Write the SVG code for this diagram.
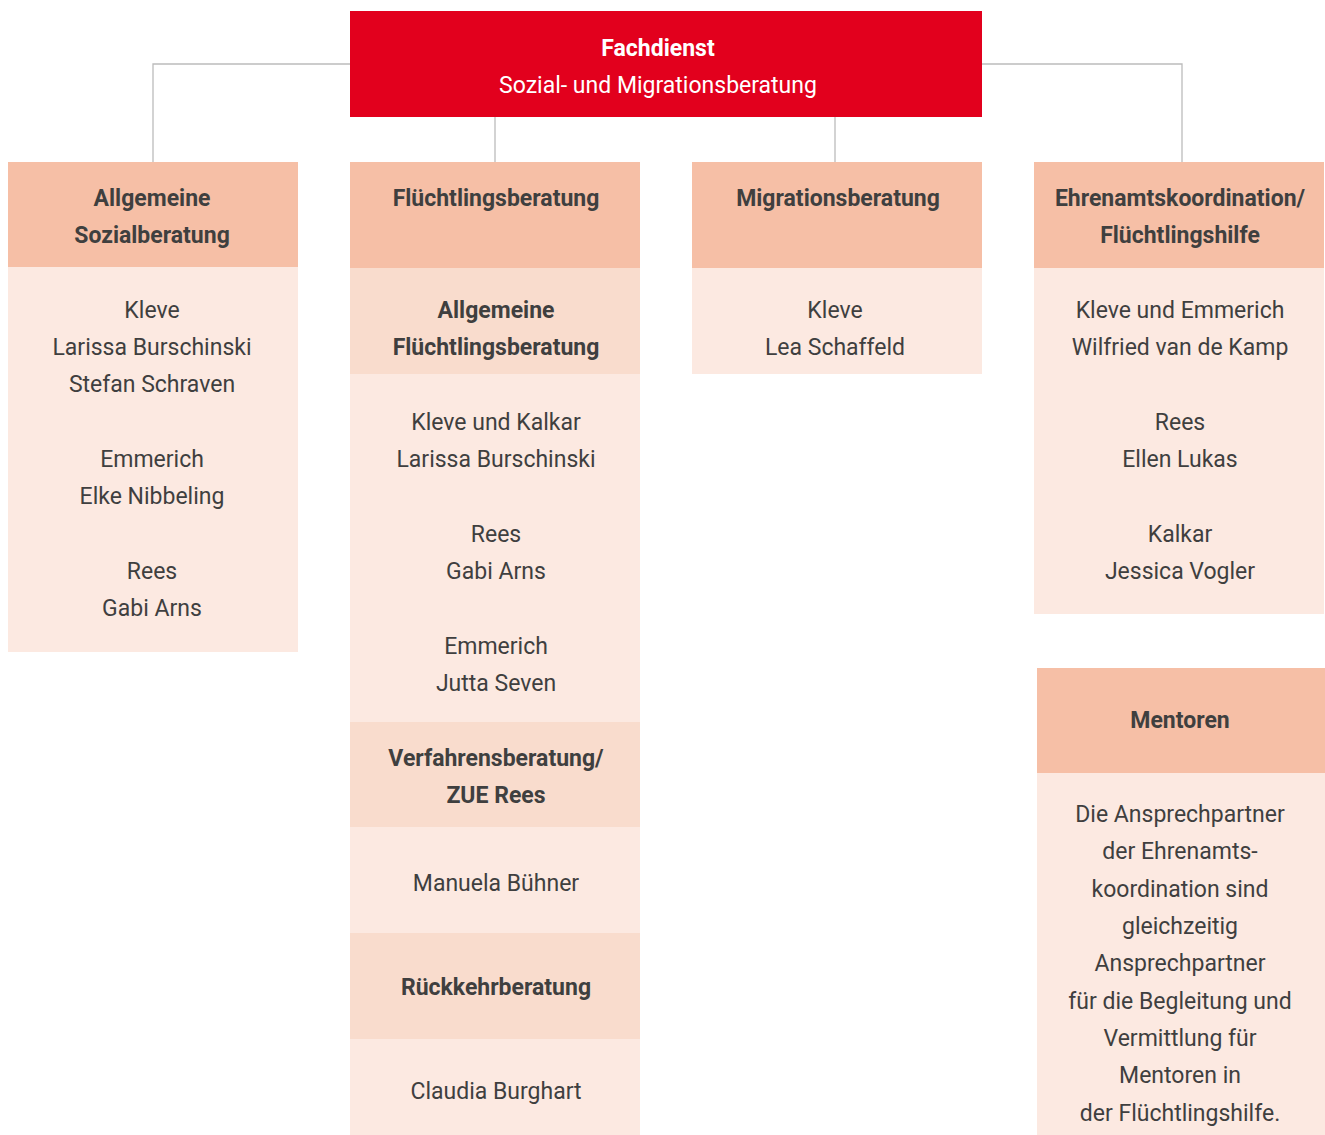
<svg xmlns="http://www.w3.org/2000/svg" width="1325" height="1135" viewBox="0 0 1325 1135">
<style>
text{font-family:"Liberation Sans Narrow","Roboto","Liberation Sans",sans-serif;font-size:23px;text-anchor:middle;fill:#3f3f3f}
.b{font-weight:bold}
.w{fill:#ffffff}
.h{fill:#f6bfa6}
.s{fill:#f9dccd}
.p{fill:#fce9e1}
.c{stroke:#bcbcbc;stroke-width:1.3;fill:none}
</style>
<rect width="1325" height="1135" fill="#ffffff"/>
<g id="connectors">
<polyline class="c" points="153,162 153,64 350,64"/>
<polyline class="c" points="982,64 1182,64 1182,162"/>
<line class="c" x1="495" y1="117" x2="495" y2="162"/>
<line class="c" x1="835" y1="117" x2="835" y2="162"/>
</g>
<g id="root">
<rect x="350" y="11" width="632" height="106" fill="#e2001d"/>
<text class="b w" x="658" y="56">Fachdienst</text>
<text class="w" x="658" y="93">Sozial- und Migrationsberatung</text>
</g>
<g id="sozialberatung">
<rect class="h" x="8" y="162" width="290" height="105"/>
<rect class="p" x="8" y="267" width="290" height="385"/>
<text class="b" x="152" y="206">Allgemeine</text>
<text class="b" x="152" y="243">Sozialberatung</text>
<text x="152" y="318">Kleve</text>
<text x="152" y="355">Larissa Burschinski</text>
<text x="152" y="392">Stefan Schraven</text>
<text x="152" y="467">Emmerich</text>
<text x="152" y="504">Elke Nibbeling</text>
<text x="152" y="579">Rees</text>
<text x="152" y="616">Gabi Arns</text>
</g>
<g id="fluechtlingsberatung">
<rect class="h" x="350" y="162" width="290" height="106"/>
<text class="b" x="496" y="206">Flüchtlingsberatung</text>
</g>
<g id="allg-fluechtlingsberatung">
<rect class="s" x="350" y="268" width="290" height="106"/>
<rect class="p" x="350" y="374" width="290" height="348"/>
<text class="b" x="496" y="318">Allgemeine</text>
<text class="b" x="496" y="355">Flüchtlingsberatung</text>
<text x="496" y="430">Kleve und Kalkar</text>
<text x="496" y="467">Larissa Burschinski</text>
<text x="496" y="542">Rees</text>
<text x="496" y="579">Gabi Arns</text>
<text x="496" y="654">Emmerich</text>
<text x="496" y="691">Jutta Seven</text>
</g>
<g id="verfahrensberatung">
<rect class="s" x="350" y="722" width="290" height="105"/>
<rect class="p" x="350" y="827" width="290" height="106"/>
<text class="b" x="496" y="766">Verfahrensberatung/</text>
<text class="b" x="496" y="803">ZUE Rees</text>
<text x="496" y="891">Manuela Bühner</text>
</g>
<g id="rueckkehrberatung">
<rect class="s" x="350" y="933" width="290" height="106"/>
<rect class="p" x="350" y="1039" width="290" height="96"/>
<text class="b" x="496" y="995">Rückkehrberatung</text>
<text x="496" y="1099">Claudia Burghart</text>
</g>
<g id="migrationsberatung">
<rect class="h" x="692" y="162" width="290" height="106"/>
<rect class="p" x="692" y="268" width="290" height="106"/>
<text class="b" x="838" y="206">Migrationsberatung</text>
<text x="835" y="318">Kleve</text>
<text x="835" y="355">Lea Schaffeld</text>
</g>
<g id="ehrenamtskoordination">
<rect class="h" x="1034" y="162" width="290" height="106"/>
<rect class="p" x="1034" y="268" width="290" height="346"/>
<text class="b" x="1180" y="206">Ehrenamtskoordination/</text>
<text class="b" x="1180" y="243">Flüchtlingshilfe</text>
<text x="1180" y="318">Kleve und Emmerich</text>
<text x="1180" y="355">Wilfried van de Kamp</text>
<text x="1180" y="430">Rees</text>
<text x="1180" y="467">Ellen Lukas</text>
<text x="1180" y="542">Kalkar</text>
<text x="1180" y="579">Jessica Vogler</text>
</g>
<g id="mentoren">
<rect class="h" x="1037" y="668" width="288" height="105"/>
<rect class="p" x="1037" y="773" width="288" height="362"/>
<text class="b" x="1180" y="728">Mentoren</text>
<text x="1180" y="822">Die Ansprechpartner</text>
<text x="1180" y="859">der Ehrenamts-</text>
<text x="1180" y="897">koordination sind</text>
<text x="1180" y="934">gleichzeitig</text>
<text x="1180" y="971">Ansprechpartner</text>
<text x="1180" y="1009">für die Begleitung und</text>
<text x="1180" y="1046">Vermittlung für</text>
<text x="1180" y="1083">Mentoren in</text>
<text x="1180" y="1121">der Flüchtlingshilfe.</text>
</g>
</svg>
